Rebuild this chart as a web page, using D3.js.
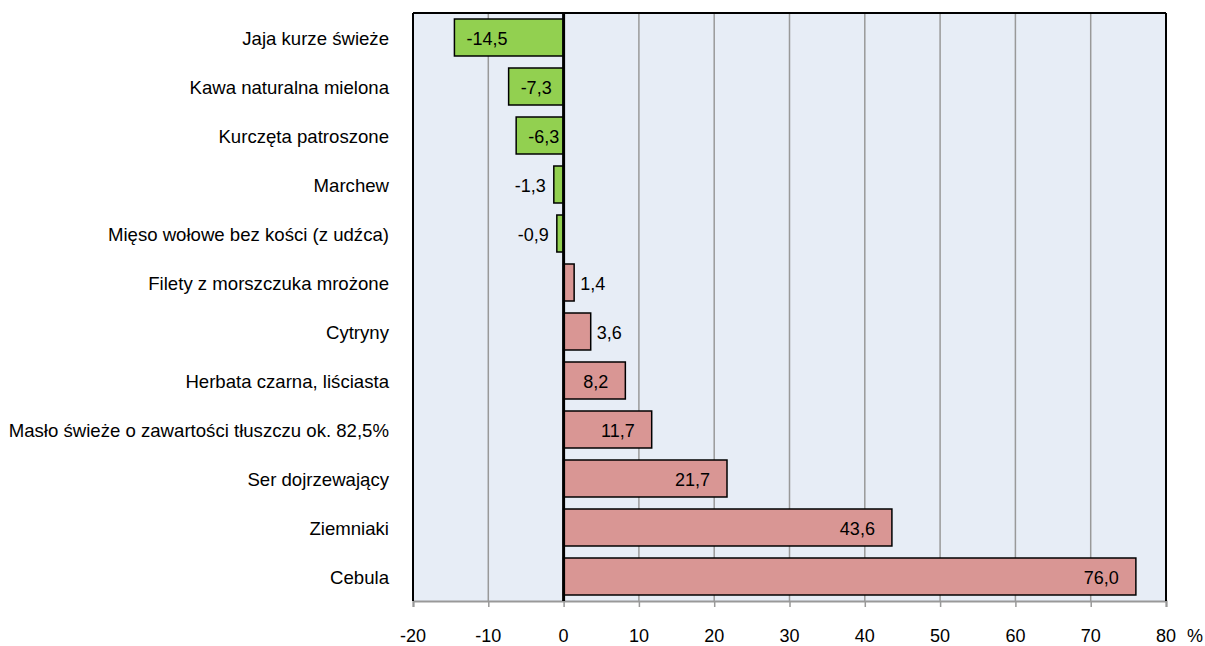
<!DOCTYPE html>
<html><head><meta charset="utf-8">
<script src="https://cdn.jsdelivr.net/npm/d3@7"></script>
<style>body{margin:0;background:#fff;}svg{display:block;font-family:Arial,"Liberation Sans",sans-serif;}</style>
</head><body><svg id="c" width="1205" height="646"></svg>
<script>
const categories = ["Jaja kurze świeże","Kawa naturalna mielona","Kurczęta patroszone","Marchew","Mięso wołowe bez kości (z udźca)","Filety z morszczuka mrożone","Cytryny","Herbata czarna, liściasta","Masło świeże o zawartości tłuszczu ok. 82,5%","Ser dojrzewający","Ziemniaki","Cebula"];
const values = [-14.5,-7.3,-6.3,-1.3,-0.9,1.4,3.6,8.2,11.7,21.7,43.6,76.0];
const xTicks = [-20,-10,0,10,20,30,40,50,60,70,80];

const svg = d3.select("#c");
const L=413, R=1166, T=13, B=601;
const x = d3.scaleLinear().domain([-20,80]).range([L,R]);
const y = d3.scaleBand().domain(categories).range([T,B]).paddingInner(0.245).paddingOuter(0.1225);

svg.append("rect").attr("x",L).attr("y",T).attr("width",R-L).attr("height",B-T).attr("fill","#E7EDF6");
// gridlines
svg.append("g").selectAll("line").data(xTicks.filter(d=>d!==-20&&d!==80&&d!==0)).join("line")
  .attr("x1",d=>x(d)).attr("x2",d=>x(d)).attr("y1",T).attr("y2",B)
  .attr("stroke","#999").attr("stroke-width",1.5);
// bottom axis
const ax = svg.append("g").attr("transform",`translate(0,${B})`)
  .call(d3.axisBottom(x).tickValues(xTicks).tickSize(6).tickFormat(""));
ax.select(".domain").attr("stroke","#999").attr("stroke-width",2);
ax.selectAll(".tick line").attr("stroke","#999").attr("stroke-width",1.5);
svg.append("g").selectAll("text").data(xTicks).join("text")
  .attr("x",d=>x(d)).attr("y",642).attr("text-anchor","middle").attr("font-size",18).attr("fill","#000").text(d=>d);
svg.append("text").attr("x",1195).attr("y",642).attr("text-anchor","middle").attr("font-size",18).text("%");
// borders
svg.append("line").attr("x1",L).attr("x2",L).attr("y1",T).attr("y2",B).attr("stroke","#000").attr("stroke-width",2);
svg.append("line").attr("x1",L).attr("x2",R).attr("y1",T).attr("y2",T).attr("stroke","#000").attr("stroke-width",2);
svg.append("line").attr("x1",R).attr("x2",R).attr("y1",T).attr("y2",B).attr("stroke","#000").attr("stroke-width",2);
// bars
svg.append("g").selectAll("rect").data(values).join("rect")
  .attr("x",d=>x(Math.min(0,d))).attr("width",d=>Math.abs(x(d)-x(0)))
  .attr("y",(d,i)=>y(categories[i])).attr("height",y.bandwidth())
  .attr("fill",d=>d<0?"#92D050":"#D99694").attr("stroke","#000").attr("stroke-width",1.5);
// zero line
svg.append("line").attr("x1",x(0)).attr("x2",x(0)).attr("y1",T).attr("y2",B).attr("stroke","#000").attr("stroke-width",3);
// value labels
const fmt = v => v.toFixed(1).replace(".",",");
svg.append("g").selectAll("text").data(values).join("text")
  .attr("font-size",18).attr("fill","#000")
  .attr("y",(d,i)=>y(categories[i])+y.bandwidth()/2+7)
  .attr("x",d=>{
    if (d>=5) return x(d)-17;
    if (d>0) return x(d)+6;
    if (d<=-5) return x(d)+12;
    return x(d)-8;
  })
  .attr("text-anchor",d=>(d>=5||(d<0&&d>-5))?"end":"start")
  .text(fmt);
// category labels
svg.append("g").selectAll("text").data(categories).join("text")
  .attr("x",389).attr("y",d=>y(d)+y.bandwidth()/2+7).attr("text-anchor","end")
  .attr("font-size",18.6).attr("fill","#000").text(d=>d);
</script></body></html>
